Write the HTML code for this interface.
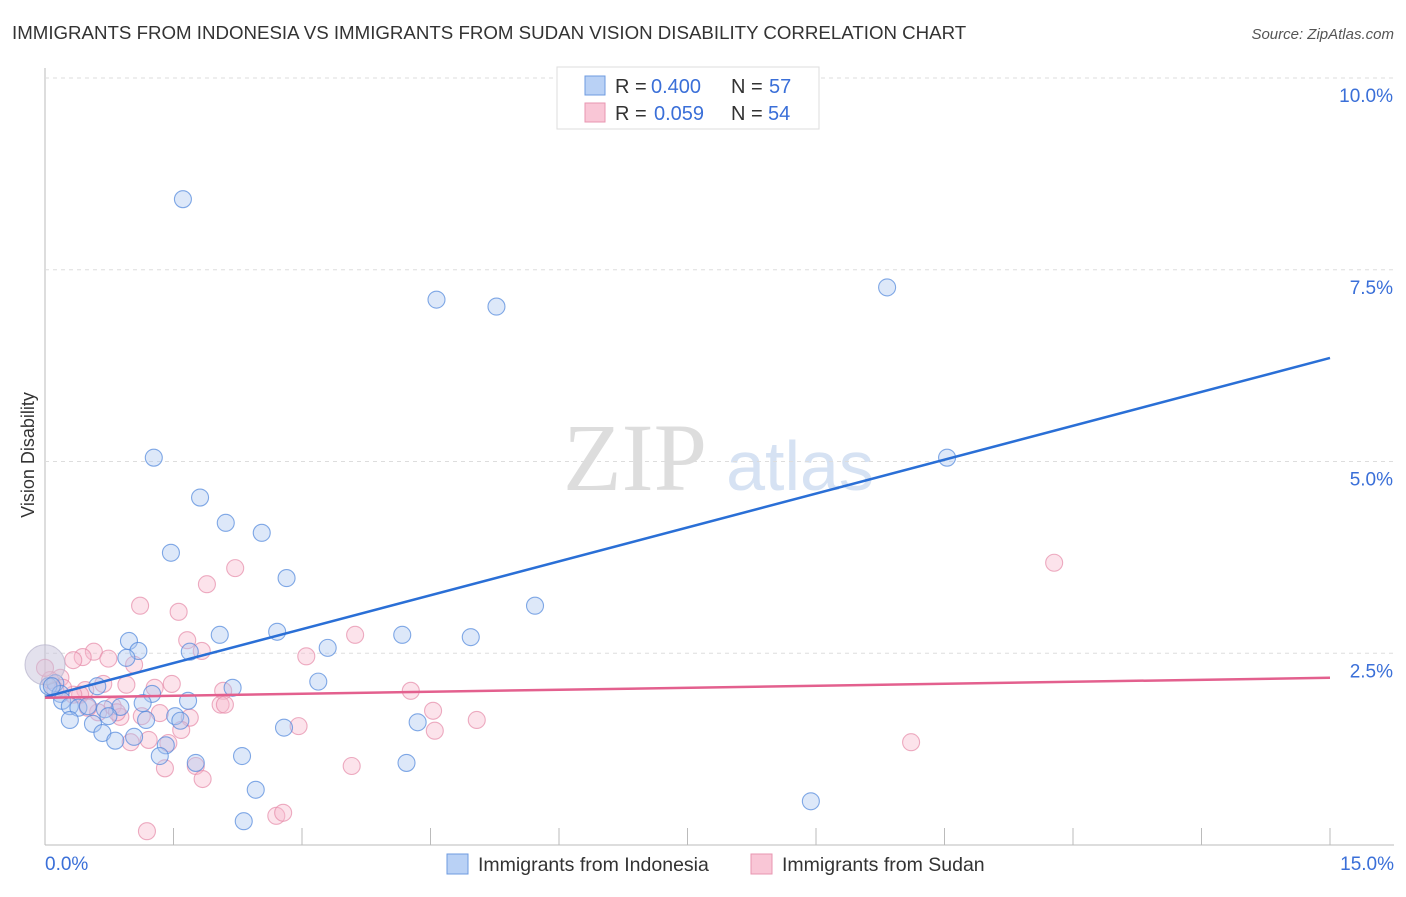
<!DOCTYPE html>
<html><head><meta charset="utf-8"><style>
body{margin:0;background:#fff;font-family:"Liberation Sans",sans-serif}
svg text{font-family:"Liberation Sans",sans-serif}
</style></head><body>
<svg id="c" width="1406" height="892">
<text x="12" y="39" font-size="18.7" fill="#333">IMMIGRANTS FROM INDONESIA VS IMMIGRANTS FROM SUDAN VISION DISABILITY CORRELATION CHART</text>
<text x="1394" y="39" font-size="15" fill="#555" text-anchor="end" font-style="italic">Source: ZipAtlas.com</text>
<text x="34" y="455" font-size="18" fill="#333" text-anchor="middle" transform="rotate(-90 34 455)">Vision Disability</text>
<g><text x="635" y="490" font-size="96" fill="#ddd" text-anchor="middle" style="font-family:'Liberation Serif',serif">ZIP</text><text x="800" y="490" font-size="70" fill="#d6e2f3" text-anchor="middle">atlas</text></g>
<g id="grid"></g><g id="pts"></g><g id="lines"></g>
<g>
<rect x="557" y="67" width="262" height="62" fill="#fff" stroke="#ddd"/>
<rect x="585" y="76" width="20" height="19" fill="#b9d1f5" stroke="#6e9be0"/>
<rect x="585" y="103" width="20" height="19" fill="#f9c6d6" stroke="#e896b0"/>
<text x="615" y="93" font-size="20" fill="#333">R =</text>
<text x="651" y="93" font-size="20" fill="#3a6fd8">0.400</text>
<text x="731" y="93" font-size="20" fill="#333">N =</text>
<text x="769" y="93" font-size="20" fill="#3a6fd8">57</text>
<text x="615" y="120" font-size="20" fill="#333">R =</text>
<text x="654" y="120" font-size="20" fill="#3a6fd8">0.059</text>
<text x="731" y="120" font-size="20" fill="#333">N =</text>
<text x="768" y="120" font-size="20" fill="#3a6fd8">54</text>
</g>
<g>
<rect x="447" y="854" width="21" height="20" fill="#b9d1f5" stroke="#6e9be0"/>
<text x="478" y="871" font-size="19.5" fill="#333">Immigrants from Indonesia</text>
<rect x="751" y="854" width="21" height="20" fill="#f9c6d6" stroke="#e896b0"/>
<text x="782" y="871" font-size="19.5" fill="#333">Immigrants from Sudan</text>
</g>
</svg>
<script>
const blueX=[1.61,4.57,5.27,9.83,10.53,1.27,1.81,2.11,2.53,1.47,2.82,5.72,2.04,2.71,4.17,4.97,0.98,1.09,0.95,1.69,3.30,3.19,2.19,1.25,0.61,0.12,0.04,0.18,0.20,0.29,0.39,0.50,0.70,0.88,0.74,1.14,1.67,1.52,0.29,0.56,0.67,1.18,1.58,0.82,1.04,1.41,1.34,1.76,2.30,2.79,4.35,4.22,2.46,2.32,8.94,0.00,0.08];
const blueY=[8.42,7.11,7.02,7.27,5.05,5.05,4.53,4.20,4.07,3.81,3.48,3.12,2.74,2.78,2.74,2.71,2.66,2.53,2.44,2.52,2.57,2.13,2.05,1.97,2.07,2.11,2.07,1.97,1.88,1.81,1.79,1.81,1.77,1.80,1.68,1.85,1.88,1.68,1.63,1.58,1.46,1.63,1.62,1.36,1.41,1.30,1.16,1.07,1.16,1.53,1.60,1.07,0.72,0.31,0.57,2.35,2.07];
const pinkX=[1.11,1.56,1.89,2.22,11.78,1.66,1.83,3.62,3.05,0.57,0.44,0.33,0.74,1.04,0.18,0.06,0.00,0.95,0.68,0.47,0.41,1.28,1.48,2.08,4.27,4.53,5.04,0.33,0.79,0.62,0.88,1.13,1.34,1.69,2.05,2.10,2.96,1.59,1.21,1.00,1.44,1.40,1.76,1.84,3.58,4.55,10.11,2.70,2.78,1.19,0.21,0.50,0.84,0.12];
const pinkY=[3.12,3.04,3.40,3.61,3.68,2.67,2.53,2.74,2.46,2.52,2.45,2.41,2.43,2.35,2.18,2.15,2.31,2.09,2.10,2.02,1.96,2.05,2.10,2.01,2.01,1.75,1.63,1.96,1.81,1.73,1.67,1.68,1.72,1.66,1.83,1.83,1.55,1.50,1.37,1.34,1.33,1.00,1.03,0.86,1.03,1.49,1.34,0.38,0.42,0.18,2.05,1.79,1.73,2.02];
const blueTrend=[1.93,6.35];
const pinkTrend=[1.92,2.18];
const yTicks=[2.5,5.0,7.5,10.0];
const xDomain=[0,15];
const NS="http://www.w3.org/2000/svg";
const sx=v=>45+(v-xDomain[0])/(xDomain[1]-xDomain[0])*1285;
const sy=v=>845-v*76.7;
function mk(t,a,p){const e=document.createElementNS(NS,t);for(const k in a)e.setAttribute(k,a[k]);p.appendChild(e);return e;}
const grid=document.getElementById('grid');
const ax=mk('line',{x1:45,y1:68,x2:45,y2:845,stroke:'#bbb'},grid);


const bx=mk('line',{x1:45,y1:845,x2:1394,y2:845,stroke:'#bbb'},grid);


yTicks.forEach(v=>{
 const l=mk('line',{x1:45,x2:1394,y1:sy(v),y2:sy(v),stroke:'#ddd','stroke-dasharray':'4,4'},grid);
 
 
 const t=mk('text',{x:1393,y:sy(v)+24,'font-size':19,fill:'#3a6fd8','text-anchor':'end'},grid);
 t.textContent=v.toFixed(1)+'%';
 
 
});
for(let i=0;i<=10;i++){
 const l=mk('line',{x1:sx(i*1.5),x2:sx(i*1.5),y1:828,y2:845,stroke:'#bbb'},grid);
 
 
}
[[0,'0.0%','start',45],[15,'15.0%','end',1394]].forEach(([v,s,a,x])=>{
 const t=mk('text',{x:x,y:870,'font-size':19,fill:'#3a6fd8','text-anchor':a},grid);
 t.textContent=s;
 
 
});
const pts=document.getElementById('pts');
function dots(X,Y,fill,stroke,name){X.forEach((x,i)=>{
 const big=(name==='indonesia-point'&&x===0);
 const c=mk('circle',{cx:sx(x),cy:sy(Y[i]),r:big?20:8.5,fill:big?'#c8c4dc':fill,'fill-opacity':big?0.5:0.4,stroke:big?'#b7b3cc':stroke,'stroke-opacity':0.7,'stroke-width':1.1},pts);
 
 
});}
dots(pinkX,pinkY,'#f7b8cc','#e68aa8','sudan-point');
dots(blueX,blueY,'#a9c6f0','#4f86dc','indonesia-point');
const lines=document.getElementById('lines');
const bl=mk('line',{x1:sx(0),y1:sy(blueTrend[0]),x2:sx(15),y2:sy(blueTrend[1]),stroke:'#2a6fd6','stroke-width':2.5},lines);


const pl=mk('line',{x1:sx(0),y1:sy(pinkTrend[0]),x2:sx(15),y2:sy(pinkTrend[1]),stroke:'#e3608e','stroke-width':2.5},lines);


</script>
</body></html>
